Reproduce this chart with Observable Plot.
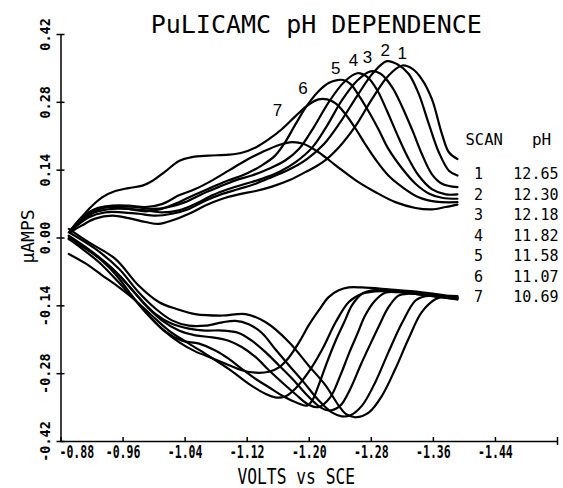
<!DOCTYPE html>
<html><head><meta charset="utf-8">
<script src="https://cdn.jsdelivr.net/npm/d3@7"></script>
<script src="https://cdn.jsdelivr.net/npm/@observablehq/plot@0.6"></script>
<style>html,body{margin:0;padding:0;background:#fff;overflow:hidden}</style>
</head><body><div id="chart"></div>
<script>
const title = "PuLICAMC pH DEPENDENCE";
const xTitle = "VOLTS vs SCE";
const yTitle = "µAMPS";
const scans = [1, 2, 3, 4, 5, 6, 7];
const phValues = ["12.65", "12.30", "12.18", "11.82", "11.58", "11.07", "10.69"];
const xTicks = [-0.88, -0.96, -1.04, -1.12, -1.20, -1.28, -1.36, -1.44, -1.52];
const xTickLabels = ["-0.88", "-0.96", "-1.04", "-1.12", "-1.20", "-1.28", "-1.36", "-1.44", ""];
const yTicks = [-0.42, -0.28, -0.14, 0, 0.14, 0.28, 0.42];
const yTickLabels = ["-0.42", "-0.28", "-0.14", "0.00", "0.14", "0.28", "0.42"];

// forward sweep (upper branch) [volts, µA]
const top1 = [[-0.892,0.012],[-0.907,0.026],[-0.924,0.040],[-0.946,0.046],[-0.967,0.041],[-0.989,0.033],[-1.006,0.029],[-1.023,0.036],[-1.045,0.050],[-1.066,0.067],[-1.088,0.081],[-1.109,0.090],[-1.131,0.097],[-1.152,0.106],[-1.174,0.119],[-1.195,0.136],[-1.217,0.156],[-1.238,0.187],[-1.260,0.232],[-1.281,0.287],[-1.302,0.335],[-1.320,0.356],[-1.333,0.349],[-1.345,0.328],[-1.358,0.287],[-1.371,0.215],[-1.380,0.177],[-1.391,0.163]];
const top2 = [[-0.892,0.014],[-0.916,0.043],[-0.937,0.053],[-0.959,0.053],[-0.980,0.050],[-1.002,0.046],[-1.023,0.050],[-1.045,0.060],[-1.066,0.077],[-1.088,0.091],[-1.109,0.101],[-1.131,0.112],[-1.152,0.126],[-1.176,0.143],[-1.197,0.163],[-1.219,0.194],[-1.240,0.239],[-1.262,0.294],[-1.283,0.342],[-1.300,0.365],[-1.313,0.359],[-1.328,0.339],[-1.341,0.298],[-1.354,0.236],[-1.367,0.177],[-1.380,0.139],[-1.391,0.129]];
const top3 = [[-0.892,0.015],[-0.907,0.036],[-0.924,0.053],[-0.946,0.060],[-0.967,0.060],[-0.989,0.057],[-1.010,0.053],[-1.032,0.057],[-1.053,0.070],[-1.075,0.088],[-1.096,0.101],[-1.118,0.112],[-1.139,0.122],[-1.161,0.136],[-1.182,0.156],[-1.204,0.187],[-1.223,0.232],[-1.242,0.284],[-1.262,0.325],[-1.279,0.344],[-1.292,0.339],[-1.307,0.311],[-1.320,0.270],[-1.333,0.222],[-1.345,0.174],[-1.358,0.132],[-1.371,0.112],[-1.391,0.105]];
const top4 = [[-0.892,0.015],[-0.914,0.050],[-0.933,0.064],[-0.955,0.065],[-0.976,0.064],[-0.997,0.060],[-1.019,0.064],[-1.040,0.074],[-1.062,0.091],[-1.083,0.105],[-1.105,0.119],[-1.126,0.129],[-1.148,0.143],[-1.169,0.160],[-1.187,0.184],[-1.206,0.229],[-1.225,0.280],[-1.245,0.322],[-1.262,0.340],[-1.275,0.332],[-1.288,0.304],[-1.300,0.263],[-1.313,0.215],[-1.326,0.170],[-1.341,0.129],[-1.358,0.101],[-1.376,0.090],[-1.391,0.090]];
const top5 = [[-0.892,0.015],[-0.907,0.040],[-0.924,0.057],[-0.946,0.064],[-0.967,0.060],[-0.989,0.055],[-1.010,0.060],[-1.032,0.074],[-1.053,0.090],[-1.075,0.105],[-1.096,0.119],[-1.118,0.132],[-1.139,0.150],[-1.156,0.170],[-1.169,0.198],[-1.182,0.234],[-1.197,0.273],[-1.212,0.303],[-1.225,0.320],[-1.236,0.326],[-1.244,0.326],[-1.253,0.318],[-1.264,0.294],[-1.277,0.260],[-1.290,0.222],[-1.302,0.184],[-1.320,0.143],[-1.337,0.112],[-1.354,0.092],[-1.371,0.083],[-1.391,0.081]];
const top6 = [[-0.892,0.015],[-0.903,0.036],[-0.916,0.060],[-0.933,0.084],[-0.950,0.097],[-0.967,0.103],[-0.985,0.108],[-0.997,0.117],[-1.015,0.138],[-1.032,0.159],[-1.049,0.167],[-1.070,0.170],[-1.096,0.172],[-1.113,0.176],[-1.131,0.187],[-1.148,0.204],[-1.165,0.225],[-1.182,0.251],[-1.199,0.275],[-1.212,0.286],[-1.223,0.286],[-1.234,0.278],[-1.247,0.255],[-1.260,0.225],[-1.272,0.194],[-1.285,0.163],[-1.302,0.129],[-1.320,0.105],[-1.341,0.084],[-1.363,0.075],[-1.391,0.074]];
const top7 = [[-0.892,0.015],[-0.907,0.043],[-0.924,0.060],[-0.946,0.067],[-0.967,0.067],[-0.989,0.064],[-1.010,0.070],[-1.032,0.088],[-1.053,0.101],[-1.075,0.119],[-1.096,0.139],[-1.118,0.160],[-1.139,0.177],[-1.161,0.192],[-1.178,0.198],[-1.193,0.194],[-1.212,0.177],[-1.234,0.150],[-1.260,0.119],[-1.285,0.095],[-1.311,0.074],[-1.337,0.062],[-1.358,0.059],[-1.376,0.064],[-1.391,0.069]];

// reverse sweep (lower branch) [volts, µA]
const bot1 = [[-1.391,-0.120],[-1.376,-0.120],[-1.363,-0.126],[-1.345,-0.153],[-1.328,-0.208],[-1.311,-0.270],[-1.294,-0.325],[-1.277,-0.360],[-1.260,-0.370],[-1.247,-0.363],[-1.238,-0.346],[-1.221,-0.304],[-1.199,-0.263],[-1.174,-0.215],[-1.144,-0.174],[-1.118,-0.157],[-1.088,-0.160],[-1.053,-0.157],[-1.028,-0.146],[-1.006,-0.132],[-0.980,-0.098],[-0.950,-0.043],[-0.916,-0.009],[-0.890,0.019]];
const bot2 = [[-1.391,-0.122],[-1.367,-0.119],[-1.350,-0.120],[-1.337,-0.129],[-1.320,-0.174],[-1.302,-0.236],[-1.285,-0.298],[-1.268,-0.346],[-1.253,-0.366],[-1.242,-0.368],[-1.229,-0.360],[-1.212,-0.335],[-1.193,-0.298],[-1.174,-0.263],[-1.156,-0.229],[-1.139,-0.196],[-1.122,-0.178],[-1.105,-0.171],[-1.088,-0.174],[-1.066,-0.181],[-1.045,-0.181],[-1.023,-0.170],[-1.002,-0.146],[-0.980,-0.112],[-0.955,-0.064],[-0.924,-0.022],[-0.890,0.012]];
const bot3 = [[-1.391,-0.124],[-1.363,-0.119],[-1.328,-0.115],[-1.315,-0.119],[-1.302,-0.143],[-1.290,-0.181],[-1.279,-0.218],[-1.266,-0.263],[-1.253,-0.311],[-1.240,-0.346],[-1.226,-0.356],[-1.214,-0.349],[-1.197,-0.324],[-1.179,-0.292],[-1.161,-0.263],[-1.144,-0.236],[-1.126,-0.212],[-1.109,-0.196],[-1.088,-0.191],[-1.066,-0.191],[-1.045,-0.187],[-1.023,-0.177],[-1.002,-0.157],[-0.980,-0.122],[-0.955,-0.077],[-0.924,-0.033],[-0.890,0.005]];
const bot4 = [[-1.391,-0.126],[-1.354,-0.119],[-1.315,-0.112],[-1.298,-0.113],[-1.285,-0.129],[-1.272,-0.160],[-1.262,-0.198],[-1.251,-0.239],[-1.240,-0.284],[-1.227,-0.329],[-1.212,-0.349],[-1.199,-0.344],[-1.182,-0.322],[-1.165,-0.298],[-1.148,-0.273],[-1.131,-0.246],[-1.113,-0.225],[-1.096,-0.212],[-1.075,-0.205],[-1.053,-0.201],[-1.032,-0.191],[-1.010,-0.170],[-0.989,-0.139],[-0.967,-0.098],[-0.942,-0.057],[-0.916,-0.026],[-0.890,0.002]];
const bot5 = [[-1.391,-0.127],[-1.345,-0.117],[-1.302,-0.108],[-1.281,-0.108],[-1.268,-0.115],[-1.255,-0.139],[-1.245,-0.174],[-1.234,-0.212],[-1.223,-0.256],[-1.212,-0.304],[-1.204,-0.335],[-1.197,-0.346],[-1.184,-0.340],[-1.167,-0.327],[-1.148,-0.308],[-1.131,-0.291],[-1.113,-0.270],[-1.096,-0.249],[-1.079,-0.232],[-1.058,-0.218],[-1.036,-0.212],[-1.015,-0.194],[-0.993,-0.160],[-0.972,-0.122],[-0.950,-0.084],[-0.929,-0.050],[-0.907,-0.022],[-0.890,-0.002]];
const bot6 = [[-1.391,-0.124],[-1.324,-0.112],[-1.285,-0.110],[-1.268,-0.115],[-1.251,-0.132],[-1.234,-0.174],[-1.217,-0.229],[-1.199,-0.277],[-1.182,-0.311],[-1.169,-0.327],[-1.156,-0.329],[-1.144,-0.322],[-1.122,-0.301],[-1.096,-0.270],[-1.070,-0.243],[-1.045,-0.218],[-1.019,-0.191],[-0.997,-0.160],[-0.976,-0.129],[-0.955,-0.102],[-0.933,-0.077],[-0.912,-0.053],[-0.890,-0.033]];
const bot7 = [[-1.391,-0.122],[-1.345,-0.112],[-1.302,-0.106],[-1.268,-0.102],[-1.251,-0.102],[-1.238,-0.108],[-1.225,-0.122],[-1.212,-0.150],[-1.199,-0.181],[-1.187,-0.215],[-1.174,-0.246],[-1.161,-0.267],[-1.148,-0.276],[-1.131,-0.278],[-1.113,-0.273],[-1.096,-0.262],[-1.075,-0.248],[-1.053,-0.234],[-1.032,-0.215],[-1.010,-0.187],[-0.989,-0.153],[-0.972,-0.120],[-0.955,-0.084],[-0.937,-0.053],[-0.916,-0.026],[-0.890,-0.002]];

// curve number labels near peaks
const labelV = [-1.320, -1.298, -1.275, -1.257, -1.234, -1.192, -1.159];
const labelI = [0.381, 0.387, 0.373, 0.366, 0.350, 0.309, 0.263];

const tops = [top1, top2, top3, top4, top5, top6, top7];
const bots = [bot1, bot2, bot3, bot4, bot5, bot6, bot7];
const rows = [];
scans.forEach((s, k) => {
  tops[k].forEach(([v, i]) => rows.push({scan: s, branch: "f", v, i}));
  bots[k].forEach(([v, i]) => rows.push({scan: s, branch: "r", v, i}));
});

const mono = "DejaVu Sans Mono";
const chart = Plot.plot({
  width: 563,
  height: 488,
  marginLeft: 60.5,
  marginRight: 6,
  marginTop: 34,
  marginBottom: 47,
  style: {fontFamily: mono, background: "white", color: "black"},
  x: {domain: [-0.88, -1.52], label: null},
  y: {domain: [-0.42, 0.42], label: null},
  marks: [
    Plot.ruleX([-0.88], {stroke: "black", strokeWidth: 1.5}),
    Plot.ruleY([-0.42], {stroke: "black", strokeWidth: 1.5}),
    Plot.axisX({ticks: xTicks, tickSize: 4, dy: -4, tickFormat: () => "", strokeWidth: 1.5}),
    Plot.axisX({ticks: [-1.52], tickSize: 4, tickFormat: () => "", strokeWidth: 1.5}),
    Plot.axisY({ticks: yTicks, tickSize: 8, dx: 4, tickFormat: () => "", strokeWidth: 1.5}),
    Plot.line(rows, {x: "v", y: "i", z: d => d.scan + d.branch, stroke: "black", strokeWidth: 2.2, curve: "catmull-rom"}),
    Plot.text(xTicks.slice(1), {x: d => d, text: (d, i) => xTickLabels[i + 1], frameAnchor: "bottom", lineAnchor: "bottom", dy: 16, fontSize: 18, fontWeight: "bold"}),
    Plot.text(xTicks.slice(0, 1), {x: d => d, text: () => xTickLabels[0], frameAnchor: "bottom", lineAnchor: "bottom", textAnchor: "start", dx: -1.5, dy: 16, fontSize: 18, fontWeight: "bold"}),
    Plot.text(yTicks, {y: d => d, text: (d, i) => yTickLabels[i], frameAnchor: "left", rotate: -90, dx: -15, textAnchor: "middle", lineAnchor: "middle", fontSize: 13.5, fontWeight: "bold"}),
    Plot.text([title], {frameAnchor: "top", dx: 7, dy: -2, lineAnchor: "bottom", fontSize: 25}),
    Plot.text([xTitle], {frameAnchor: "bottom", dx: -13, dy: 42, lineAnchor: "bottom", fontSize: 22}),
    Plot.text([yTitle], {frameAnchor: "left", dx: -33, dy: -1.5, rotate: -90, textAnchor: "middle", lineAnchor: "middle", fontSize: 18}),
    Plot.text(scans, {x: (d, i) => labelV[i], y: (d, i) => labelI[i], text: d => String(d), fontFamily: "Liberation Sans", fontSize: 17, lineAnchor: "middle"}),
    Plot.text(["SCAN"], {frameAnchor: "top-right", textAnchor: "start", dx: -92, dy: 99.6, lineAnchor: "top", fontSize: 15.5}),
    Plot.text(["pH"], {frameAnchor: "top-right", textAnchor: "middle", dx: -16, dy: 99.6, lineAnchor: "top", fontSize: 16}),
    Plot.text([scans.join("\n")], {frameAnchor: "top-right", textAnchor: "middle", dx: -79, dy: 130, lineAnchor: "top", lineHeight: 1.367, fontSize: 15}),
    Plot.text([phValues.join("\n")], {frameAnchor: "top-right", textAnchor: "end", dx: 1, dy: 130, lineAnchor: "top", lineHeight: 1.367, fontSize: 15})
  ]
});

// horizontally condense the plotter-style axis texts around their anchor
const squeezeMap = new Map([
  ...xTickLabels.filter(Boolean).map(s => [s, 0.64]),
  [xTitle, 0.74]
]);
chart.querySelectorAll("text").forEach(t => {
  if (t.querySelector("tspan")) return;
  const s = squeezeMap.get(t.textContent.trim());
  if (s === undefined) return;
  const tr = t.getAttribute("transform");
  if (!tr || !tr.startsWith("translate")) return;
  t.setAttribute("transform", tr + ` scale(${s},1)`);
});

document.getElementById("chart").appendChild(chart);
</script>
</body></html>
